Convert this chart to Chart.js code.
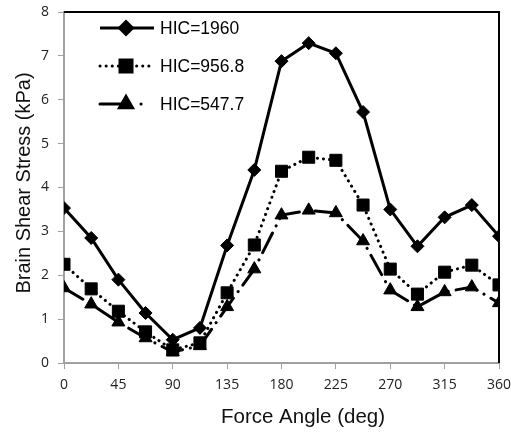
<!DOCTYPE html>
<html>
<head>
<meta charset="utf-8">
<script src="https://cdn.jsdelivr.net/npm/chart.js@4"></script>
<style>
  html, body { margin: 0; padding: 0; background: #fff; }
  #wrap { width: 511px; height: 432px; }
</style>
</head>
<body>
<div id="wrap"><canvas id="stressChart" width="511" height="432"></canvas></div>
<script>
// --- data ---
const ANGLES = [0, 22.5, 45, 67.5, 90, 112.5, 135, 157.5, 180, 202.5, 225, 247.5, 270, 292.5, 315, 337.5, 360];
const HIC_1960 = [3.53, 2.85, 1.9, 1.14, 0.53, 0.8, 2.68, 4.4, 6.88, 7.29, 7.06, 5.72, 3.5, 2.66, 3.32, 3.6, 2.89];
const HIC_956 = [2.25, 1.69, 1.18, 0.71, 0.3, 0.46, 1.6, 2.69, 4.37, 4.69, 4.62, 3.6, 2.14, 1.57, 2.07, 2.23, 1.78];
const HIC_547 = [1.71, 1.34, 0.93, 0.57, 0.25, 0.39, 1.28, 2.14, 3.37, 3.48, 3.42, 2.78, 1.66, 1.28, 1.62, 1.73, 1.37];
const LABELS = ['HIC=1960', 'HIC=956.8', 'HIC=547.7'];
const X_TICKS = [0, 45, 90, 135, 180, 225, 270, 315, 360];
const X_TITLE = 'Force Angle (deg)';
const Y_TITLE = 'Brain Shear Stress (kPa)';

const FONT = '"Liberation Sans", Arial, sans-serif';
const TICK_FONT = { size: 14, family: '"Open Sans", "Liberation Sans", sans-serif' };

const toPoints = (ys) => ys.map((y, i) => ({ x: ANGLES[i], y: y }));

// frame, axis titles and the in-plot legend
const decorations = {
    id: 'decorations',
    afterDraw(chart) {
        const ctx = chart.ctx;
        const area = chart.chartArea;

        // black frame on top and right
        ctx.save();
        ctx.strokeStyle = '#000';
        ctx.lineWidth = 2;
        ctx.beginPath();
        ctx.moveTo(area.left, area.top);
        ctx.lineTo(area.right, area.top);
        ctx.lineTo(area.right, area.bottom);
        ctx.stroke();
        ctx.restore();

        // axis titles
        ctx.save();
        ctx.fillStyle = '#111';
        ctx.font = '20.5px ' + FONT;
        ctx.textAlign = 'center';
        ctx.textBaseline = 'alphabetic';
        ctx.fillText(X_TITLE, 303, 423);
        ctx.translate(24, 183);
        ctx.rotate(-Math.PI / 2);
        ctx.font = '20px ' + FONT;
        ctx.textBaseline = 'middle';
        ctx.fillText(Y_TITLE, 0, 0);
        ctx.restore();

        // legend
        const rows = [28, 66, 104];
        chart.data.datasets.forEach((ds, i) => {
            const y = rows[i];
            ctx.save();
            ctx.strokeStyle = '#000';
            ctx.lineWidth = ds.borderWidth;
            ctx.lineCap = ds.borderCapStyle || 'butt';
            ctx.setLineDash(ds.legendDash || ds.borderDash || []);
            ctx.beginPath();
            ctx.moveTo(100, y);
            ctx.lineTo(154, y);
            ctx.stroke();
            ctx.setLineDash([]);
            ctx.fillStyle = '#000';
            Chart.helpers.drawPoint(ctx, {
                pointStyle: ds.pointStyle, radius: ds.pointRadius, rotation: 0, borderWidth: 1
            }, 126, y);
            ctx.fill();
            ctx.font = '17.5px ' + FONT;
            ctx.textBaseline = 'middle';
            ctx.fillText(ds.label, 160, y + 1);
            ctx.restore();
        });
    }
};

const common = {
    borderColor: '#000',
    backgroundColor: '#000',
    pointBackgroundColor: '#000',
    pointBorderColor: '#000',
    pointBorderWidth: 1,
    borderWidth: 3,
    showLine: true,
    tension: 0
};

// keep tick labels from pushing the plot area in
const noLabelPadding = (axis) => {
    axis.paddingTop = 0; axis.paddingBottom = 0;
    axis.paddingLeft = 0; axis.paddingRight = 0;
};

new Chart(document.getElementById('stressChart').getContext('2d'), {
    type: 'scatter',
    data: {
        datasets: [
            Object.assign({}, common, { label: LABELS[0], data: toPoints(HIC_1960),
                pointStyle: 'rectRot', pointRadius: 6.5 }),
            Object.assign({}, common, { label: LABELS[1], data: toPoints(HIC_956),
                pointStyle: 'rect', pointRadius: 8.5, borderDash: [0.1, 6], borderCapStyle: 'round' }),
            Object.assign({}, common, { label: LABELS[2], data: toPoints(HIC_547),
                pointStyle: 'triangle', pointRadius: 7.5, borderDash: [22, 8, 0.1, 8], borderCapStyle: 'round',
                legendDash: [22, 19, 0.1, 40] })
        ]
    },
    options: {
        responsive: false,
        animation: false,
        layout: { padding: { top: 12, right: 12, left: 0, bottom: 0 } },
        plugins: { legend: { display: false }, tooltip: { enabled: false } },
        scales: {
            x: {
                type: 'linear', min: 0, max: 360,
                afterBuildTicks: (axis) => { axis.ticks = X_TICKS.map(v => ({ value: v })); },
                afterFit: (axis) => { axis.height = 69; noLabelPadding(axis); },
                grid: { drawOnChartArea: false, drawTicks: true, tickLength: 6, color: '#a0a0a0' },
                border: { color: '#a0a0a0', width: 2 },
                ticks: { color: '#222', font: TICK_FONT, padding: 8, maxRotation: 0 },
                title: { display: false }
            },
            y: {
                min: 0, max: 8,
                afterFit: (axis) => { axis.width = 64; noLabelPadding(axis); },
                ticks: { stepSize: 1, color: '#222', font: TICK_FONT, padding: 9 },
                grid: { drawOnChartArea: false, drawTicks: true, tickLength: 6, color: '#a0a0a0' },
                border: { color: '#a0a0a0', width: 2 },
                title: { display: false }
            }
        }
    },
    plugins: [decorations]
});
</script>
</body>
</html>
